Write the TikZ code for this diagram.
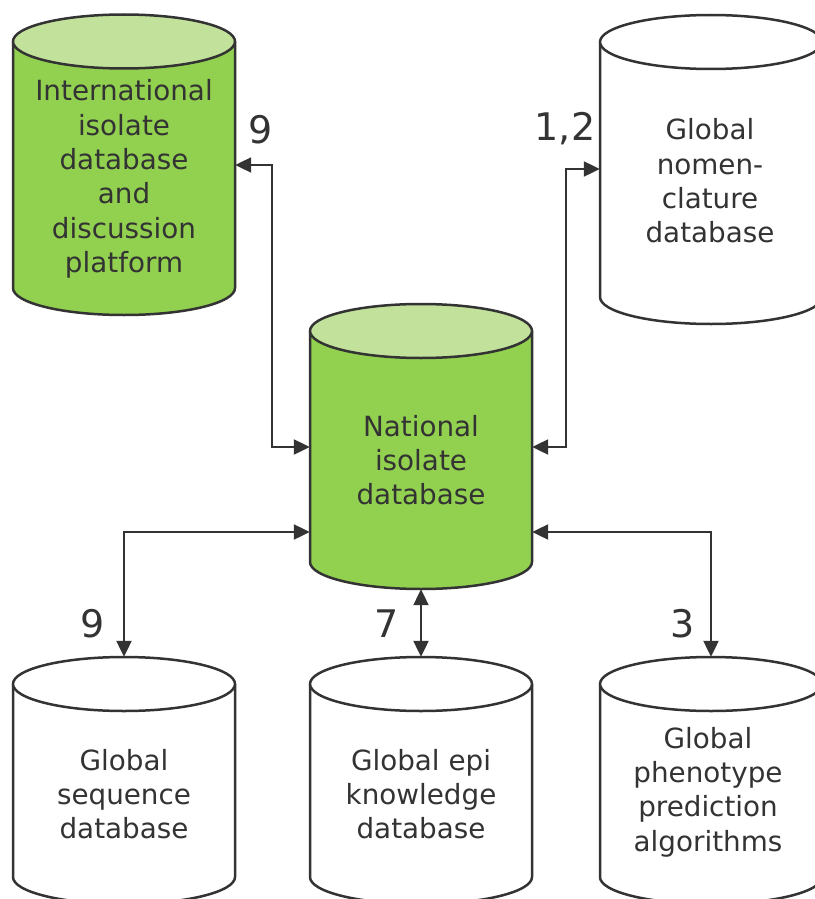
\documentclass[tikz,border=0pt]{standalone}
\usepackage{fontspec}
\setmainfont{DejaVu Sans}
\usetikzlibrary{arrows.meta}
\definecolor{lineg}{HTML}{333333}
\definecolor{txtg}{HTML}{333333}
\definecolor{gbody}{HTML}{92D050}
\definecolor{gtop}{HTML}{C2E29C}
\def\cylrx{111}
\def\cylry{27}
\newcommand\dbcyl[6]{%
  \node[cylbox, minimum height={#4-#3+2*\cylry}] (#1) at (#2,{(#3+#4)/2}) {};
  \path[cylline, fill=#5] (#2-\cylrx,#3) -- (#2-\cylrx,#4)
     arc[start angle=180,end angle=0,x radius=\cylrx,y radius=\cylry]
     -- (#2+\cylrx,#3) -- cycle;
  \path[cylline, fill=#6] (#2,#3) ellipse[x radius=\cylrx, y radius=\cylry];
}
\begin{document}
\begin{tikzpicture}[x=1pt,y=-1pt,
  cylbox/.style={inner sep=0pt, minimum width=2*\cylrx pt, draw=none},
  cylline/.style={draw=lineg, line width=2.5pt, line join=round},
  dbtext/.style={text=txtg, align=center, inner sep=0pt,
     font=\fontsize{27.8}{34.3}\selectfont},
  numlabel/.style={text=txtg, inner sep=0pt,
     font=\fontsize{38}{40}\selectfont},
  conn/.style={draw=lineg, line width=2.2pt, {Triangle[length=16pt,width=15pt]}-{Triangle[length=16pt,width=15pt]}}
]
\useasboundingbox (0,0) rectangle (814,899);
\fill[white] (0,0) rectangle (814,899);

% cylinders
\dbcyl{intl}{124}{41.5}{288}{gbody}{gtop}
\dbcyl{nom}{711}{42}{297}{white}{white}
\dbcyl{nat}{421}{331}{562}{gbody}{gtop}
\dbcyl{seq}{124}{684}{877}{white}{white}
\dbcyl{epi}{421}{684}{877}{white}{white}
\dbcyl{phe}{711}{684}{877}{white}{white}

% texts
\node[dbtext] (intlT) at (124,179) {International\\isolate\\database\\and\\discussion\\platform};
\node[dbtext] (nomT) at (710,181) {Global\\nomen-\\clature\\database};
\node[dbtext] (natT) at (421,460) {National\\isolate\\database};
\node[dbtext] (seqT) at (124,794) {Global\\sequence\\database};
\node[dbtext] (epiT) at (421,794) {Global epi\\knowledge\\database};
\node[dbtext] (pheT) at (708,792) {Global\\phenotype\\prediction\\algorithms};

% connector levels
\coordinate (yA) at (272,165);
\coordinate (yB) at (272,447);
\coordinate (yC) at (566,169);
\coordinate (yD) at (566,447);
\coordinate (yE) at (124,532);
\coordinate (yF) at (711,532);

\draw[conn] (intl.east |- yA) -- (yA) -- (yB) -- (nat.west |- yB);
\draw[conn] (nat.east |- yD) -- (yD) -- (yC) -- (nom.west |- yC);
\draw[conn] (nat.west |- yE) -- (yE) -- (seq.north);
\draw[conn] (nat.east |- yF) -- (yF) -- (phe.north);
\draw[conn] (nat.south) -- (epi.north);

% labels
\node[numlabel] (l1) at (261,130) {9};
\node[numlabel] (l2) at (565,129) {1,2};
\node[numlabel] (l3) at (93,624) {9};
\node[numlabel] (l4) at (387,624) {7};
\node[numlabel] (l5) at (683,624) {3};
\end{tikzpicture}
\end{document}
